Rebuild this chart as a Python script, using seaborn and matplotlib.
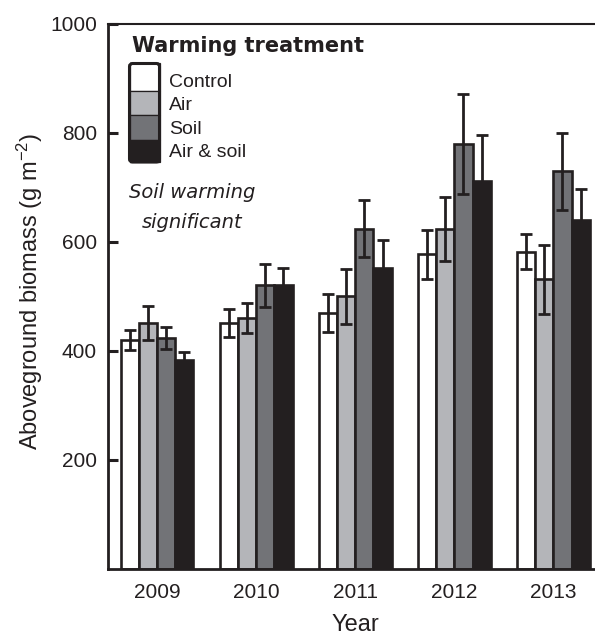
import matplotlib
matplotlib.use("Agg")
import matplotlib.pyplot as plt
from matplotlib.patches import Rectangle, FancyBboxPatch
import pandas as pd
import seaborn as sns

# Aboveground biomass (g m-2) per warming treatment and year, with standard errors
years = ["2009", "2010", "2011", "2012", "2013"]
treatments = ["Control", "Air", "Soil", "Air & soil"]
control = [420, 451, 470, 577, 582]
air = [451, 460, 500, 623, 531]
soil = [423, 520, 624, 779, 729]
air_soil = [384, 520, 551, 712, 639]
control_se = [19, 25, 35, 45, 32]
air_se = [32, 27, 50, 59, 63]
soil_se = [20, 40, 52, 92, 70]
air_soil_se = [13, 32, 53, 83, 57]
yticks = [200, 400, 600, 800, 1000]

colors = ["#ffffff", "#b4b5b9", "#727377", "#231f20"]
ink = "#231f20"

means = [control, air, soil, air_soil]
ses = [control_se, air_se, soil_se, air_soil_se]
df = pd.DataFrame(
    [{"year": y, "treatment": t, "biomass": v}
     for t, vals in zip(treatments, means)
     for y, v in zip(years, vals)]
)

sns.set_theme(style="ticks")
plt.rcParams["font.family"] = ["Liberation Sans", "DejaVu Sans"]
plt.rcParams["mathtext.fontset"] = "custom"
plt.rcParams["mathtext.rm"] = "Liberation Sans"
plt.rcParams["mathtext.default"] = "regular"

W, H = 595, 637
fig = plt.figure(figsize=(W / 100, H / 100), dpi=100)
ax = fig.add_axes([108 / W, 1 - 569 / H, (W - 108) / W, (569 - 23.5) / H])

sns.barplot(
    data=df, x="year", y="biomass", hue="treatment",
    order=years, hue_order=treatments, palette=colors, saturation=1,
    width=0.735, errorbar=None, edgecolor=ink, linewidth=1.9,
    legend=False, ax=ax, zorder=2,
)

# standard-error whiskers centred on each bar
for cont, se in zip(ax.containers, ses):
    xs = [p.get_x() + p.get_width() / 2 for p in cont]
    hs = [p.get_height() for p in cont]
    ax.errorbar(xs, hs, yerr=se, fmt="none", ecolor=ink, elinewidth=2.0,
                capsize=4.2, capthick=2.0, zorder=3)

xlim = (-0.495, 4.42)
ax.set_xlim(*xlim)
ax.set_ylim(0, 1000)
ax.set_yticks(yticks)
ax.set_yticklabels([str(v) for v in yticks])

for side in ("left", "bottom"):
    ax.spines[side].set_linewidth(2.0)
    ax.spines[side].set_color(ink)
ax.spines["top"].set_linewidth(1.5)
ax.spines["top"].set_color(ink)
ax.spines["right"].set_visible(False)

ax.tick_params(axis="y", direction="in", length=7.5, width=2.2, color=ink,
               pad=8, labelsize=15, labelcolor=ink)
ax.tick_params(axis="x", length=0, pad=10, labelsize=15, labelcolor=ink)

ax.set_ylabel("Aboveground biomass (g m$^{-2}$)", fontsize=17, color=ink, va="center")
ax.yaxis.set_label_coords((30 - 108) / 487, (569 - 291) / 545.5)
ax.set_xlabel("Year", fontsize=17, color=ink)
ax.xaxis.set_label_coords((2 - xlim[0]) / (xlim[1] - xlim[0]), (569 - 614) / 545.5)


def fx(px):
    return px / W


def fy(py):
    return 1 - py / H


# legend: stacked swatches with a rounded outline
fig.text(fx(132), fy(52.3), "Warming treatment", family="DejaVu Sans",
         fontweight="bold", fontsize=15, color=ink, va="baseline", ha="left")
edges = [63.5, 91, 115, 140, 162]
x0, x1 = 129.5, 159.5
for i, c in enumerate(colors):
    top, bot = edges[i], edges[i + 1]
    fig.add_artist(Rectangle((x0 / 100, (H - bot) / 100), (x1 - x0) / 100, (bot - top) / 100,
                             transform=fig.dpi_scale_trans, facecolor=c,
                             edgecolor=ink, linewidth=0.9))
fig.add_artist(FancyBboxPatch((x0 / 100, (H - edges[-1]) / 100), (x1 - x0) / 100,
                              (edges[-1] - edges[0]) / 100,
                              boxstyle="round,pad=0,rounding_size=0.03",
                              transform=fig.dpi_scale_trans, fill=False,
                              edgecolor=ink, linewidth=2.2))
baselines = [86.7, 110, 134, 157.3]
for t, b in zip(treatments, baselines):
    fig.text(fx(169), fy(b), t, fontsize=14, color=ink, va="baseline", ha="left")

fig.text(fx(192.5), fy(198.3), "Soil warming", family="DejaVu Sans", style="italic",
         fontsize=14, color=ink, va="baseline", ha="center")
fig.text(fx(192.5), fy(228), "significant", family="DejaVu Sans", style="italic",
         fontsize=14, color=ink, va="baseline", ha="center")

fig.savefig("out.png", dpi=100, facecolor="white")
